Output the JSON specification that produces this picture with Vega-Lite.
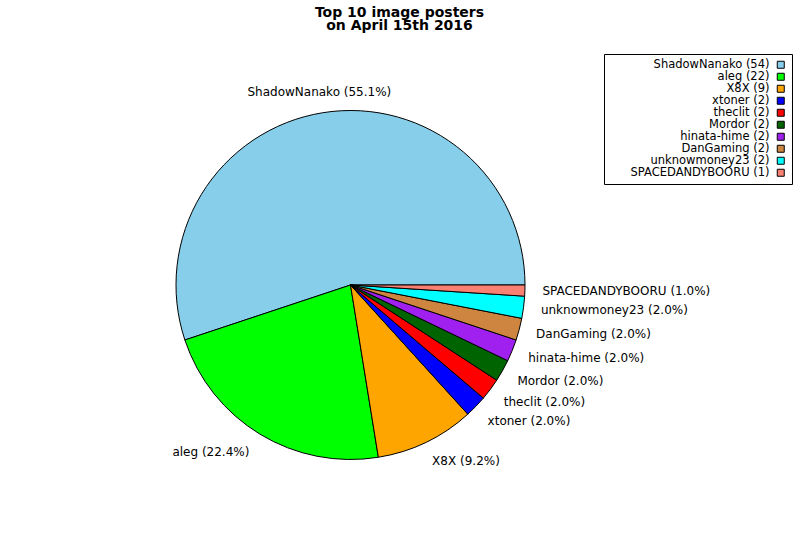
{
  "$schema": "https://vega.github.io/schema/vega-lite/v6.json",
  "background": "white",
  "autosize": {"type": "none"},
  "padding": {"left": 0, "top": 40, "right": 99, "bottom": 10},
  "width": 701,
  "height": 490,
  "title": {
    "text": ["Top 10 image posters", "on April 15th 2016"],
    "font": "DejaVu Sans",
    "fontSize": 14,
    "fontWeight": "bold",
    "lineHeight": 13,
    "anchor": "middle",
    "baseline": "alphabetic",
    "offset": -4,
    "dx": 49,
    "color": "black"
  },
  "data": {
    "values": [
      {"rank": 1, "name": "ShadowNanako", "count": 54, "label": "ShadowNanako (55.1%)", "legend": "ShadowNanako (54)"},
      {"rank": 2, "name": "aleg", "count": 22, "label": "aleg (22.4%)", "legend": "aleg (22)"},
      {"rank": 3, "name": "X8X", "count": 9, "label": "X8X (9.2%)", "legend": "X8X (9)"},
      {"rank": 4, "name": "xtoner", "count": 2, "label": "xtoner (2.0%)", "legend": "xtoner (2)"},
      {"rank": 5, "name": "theclit", "count": 2, "label": "theclit (2.0%)", "legend": "theclit (2)"},
      {"rank": 6, "name": "Mordor", "count": 2, "label": "Mordor (2.0%)", "legend": "Mordor (2)"},
      {"rank": 7, "name": "hinata-hime", "count": 2, "label": "hinata-hime (2.0%)", "legend": "hinata-hime (2)"},
      {"rank": 8, "name": "DanGaming", "count": 2, "label": "DanGaming (2.0%)", "legend": "DanGaming (2)"},
      {"rank": 9, "name": "unknowmoney23", "count": 2, "label": "unknowmoney23 (2.0%)", "legend": "unknowmoney23 (2)"},
      {"rank": 10, "name": "SPACEDANDYBOORU", "count": 1, "label": "SPACEDANDYBOORU (1.0%)", "legend": "SPACEDANDYBOORU (1)"}
    ]
  },
  "encoding": {
    "theta": {
      "field": "count",
      "type": "quantitative",
      "stack": true,
      "scale": {"range": [1.5707963, -4.712389]}
    },
    "order": {"field": "rank", "type": "quantitative"}
  },
  "layer": [
    {
      "mark": {"type": "arc", "outerRadius": 174.5, "stroke": "black", "strokeWidth": 1},
      "encoding": {
        "color": {
          "field": "legend",
          "type": "nominal",
          "sort": null,
          "scale": {
            "domain": ["ShadowNanako (54)", "aleg (22)", "X8X (9)", "xtoner (2)", "theclit (2)", "Mordor (2)", "hinata-hime (2)", "DanGaming (2)", "unknowmoney23 (2)", "SPACEDANDYBOORU (1)"],
            "range": ["#87CEEB", "#00FF00", "#FFA500", "#0000FF", "#FF0000", "#006400", "#A020F0", "#CD853F", "#00FFFF", "#FA8072"]
          },
          "legend": {
            "title": null,
            "orient": "none",
            "legendX": 604,
            "legendY": 14,
            "symbolType": "square",
            "symbolSize": 49,
            "symbolStrokeColor": "black",
            "symbolStrokeWidth": 1,
            "symbolOffset": 166,
            "labelFont": "DejaVu Sans",
            "labelFontSize": 11.5,
            "labelColor": "black",
            "labelAlign": "right",
            "labelOffset": -17,
            "labelLimit": 200,
            "rowPadding": -3,
            "strokeColor": "black",
            "fillColor": "white",
            "padding": 5
          }
        }
      }
    },
    {
      "mark": {"type": "text", "radius": 195, "dx": -3, "align": "left", "baseline": "middle", "font": "DejaVu Sans", "fontSize": 12},
      "encoding": {
        "detail": {"field": "name"},
        "color": {"value": "black"},
        "text": {"condition": {"test": "datum.rank > 2", "field": "label"}, "value": ""}
      }
    },
    {
      "mark": {"type": "text", "radius": 195, "align": "right", "baseline": "middle", "font": "DejaVu Sans", "fontSize": 12},
      "encoding": {
        "detail": {"field": "name"},
        "color": {"value": "black"},
        "text": {"condition": {"test": "datum.rank === 2", "field": "label"}, "value": ""}
      }
    },
    {
      "mark": {"type": "text", "radius": 195, "align": "center", "baseline": "middle", "font": "DejaVu Sans", "fontSize": 12},
      "encoding": {
        "detail": {"field": "name"},
        "color": {"value": "black"},
        "text": {"condition": {"test": "datum.rank === 1", "field": "label"}, "value": ""}
      }
    }
  ],
  "config": {"view": {"stroke": null}}
}
